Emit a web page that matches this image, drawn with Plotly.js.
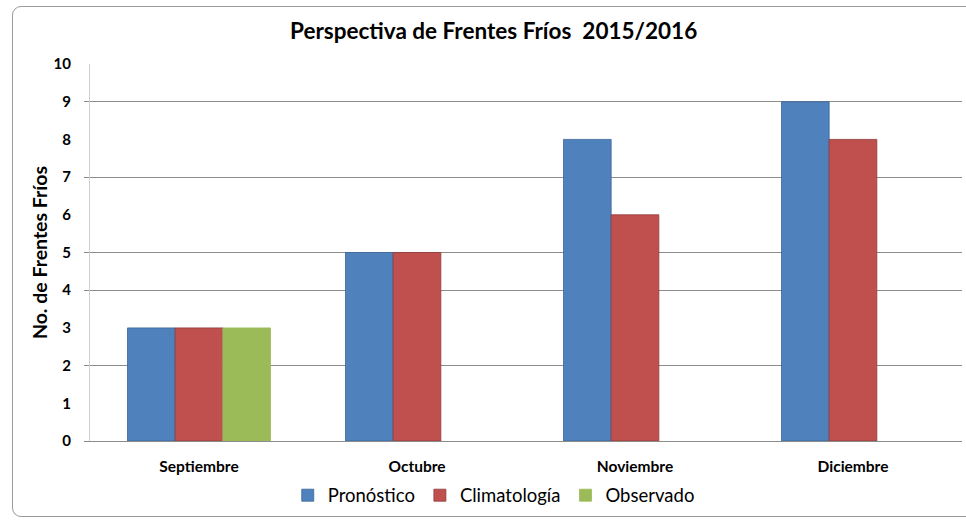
<!DOCTYPE html>
<html>
<head>
<meta charset="utf-8">
<script src="https://cdn.plot.ly/plotly-3.0.1.min.js"></script>
<style>
  html, body { margin:0; padding:0; background:#ffffff; }
  #frame { position:absolute; left:12px; top:6px; width:980px; height:511px;
           border:1.5px solid #9a9a9a; border-radius:9px; box-sizing:border-box; }
  #chart { position:absolute; left:0; top:0; width:966px; height:520px; }
</style>
</head>
<body>
<div id="frame"></div>
<div id="chart"></div>
<script>
const months = ["Septiembre", "Octubre", "Noviembre", "Diciembre"];
const pronostico = [3, 5, 8, 9];
const climatologia = [3, 5, 6, 8];
const observado = [3, null, null, null];
const yTicks = [0, 1, 2, 3, 4, 5, 6, 7, 8, 9, 10];
const visibleGrid = [0, 2, 4, 5, 7, 9];

const lineStyle = (c) => ({ color: c, width: 0.8 });
const traces = [
  { type: "bar", name: "Pronóstico", x: months, y: pronostico,
    marker: { color: "#4F81BD", line: lineStyle("#3b6596") } },
  { type: "bar", name: "Climatología", x: months, y: climatologia,
    marker: { color: "#C0504D", line: lineStyle("#8f3a38") } },
  { type: "bar", name: "Observado", x: months, y: observado,
    marker: { color: "#9BBB59", line: lineStyle("#9BBB59") } },
  { type: "scatter", x: months, y: [null, null, null, null], yaxis: "y2",
    showlegend: false, hoverinfo: "skip" }
];

const layout = {
  width: 966, height: 520,
  paper_bgcolor: "rgba(0,0,0,0)", plot_bgcolor: "rgba(0,0,0,0)",
  margin: { l: 90, r: 4, t: 64, b: 79 },
  barmode: "group", bargap: 0.344, bargroupgap: 0,
  font: { family: "Lato, 'Open Sans', sans-serif", color: "#000" },
  title: { text: "<b>Perspectiva de Frentes Fríos  2015/2016</b>",
           font: { size: 22.5, family: "Lato, sans-serif", color: "#000" },
           x: 0.511, xanchor: "center", y: 0.94, yanchor: "middle" },
  xaxis: {
    type: "category", showgrid: false, showline: true, linecolor: "#8c8c8c", linewidth: 1,
    ticks: "", tickfont: { size: 15.5, family: "Lato, sans-serif" },
    ticklabelstandoff: 11,
    tickvals: months, ticktext: months.map(m => "<b>" + m + "</b>")
  },
  yaxis: {
    range: [0, 10], tickvals: yTicks, ticktext: yTicks.map(v => "<b>" + v + "</b>"),
    showgrid: false, zeroline: false, showline: true, linecolor: "#cfcfcf", linewidth: 1,
    ticks: "", ticklen: 0, tickfont: { size: 15, family: "Lato, sans-serif" },
    ticklabelstandoff: 15,
    title: { text: "<b>No. de Frentes Fríos</b>", font: { size: 19.5, family: "Lato, sans-serif" }, standoff: 0 }
  },
  yaxis2: {
    overlaying: "y", range: [0, 10], tickvals: visibleGrid, showticklabels: false,
    showgrid: true, gridcolor: "#8c8c8c", gridwidth: 1, zeroline: false,
    ticks: "outside", ticklen: 5, tickcolor: "#8c8c8c", side: "left", showline: false
  },
  legend: { orientation: "h", x: 0.463, xanchor: "center", y: -0.145, yanchor: "middle",
            font: { size: 18.5, family: "Lato, sans-serif" }, traceorder: "normal",
            itemwidth: 30, tracegroupgap: 0 },
  showlegend: true
};

Plotly.newPlot("chart", traces, layout, { displayModeBar: false, staticPlot: true });
</script>
</body>
</html>
